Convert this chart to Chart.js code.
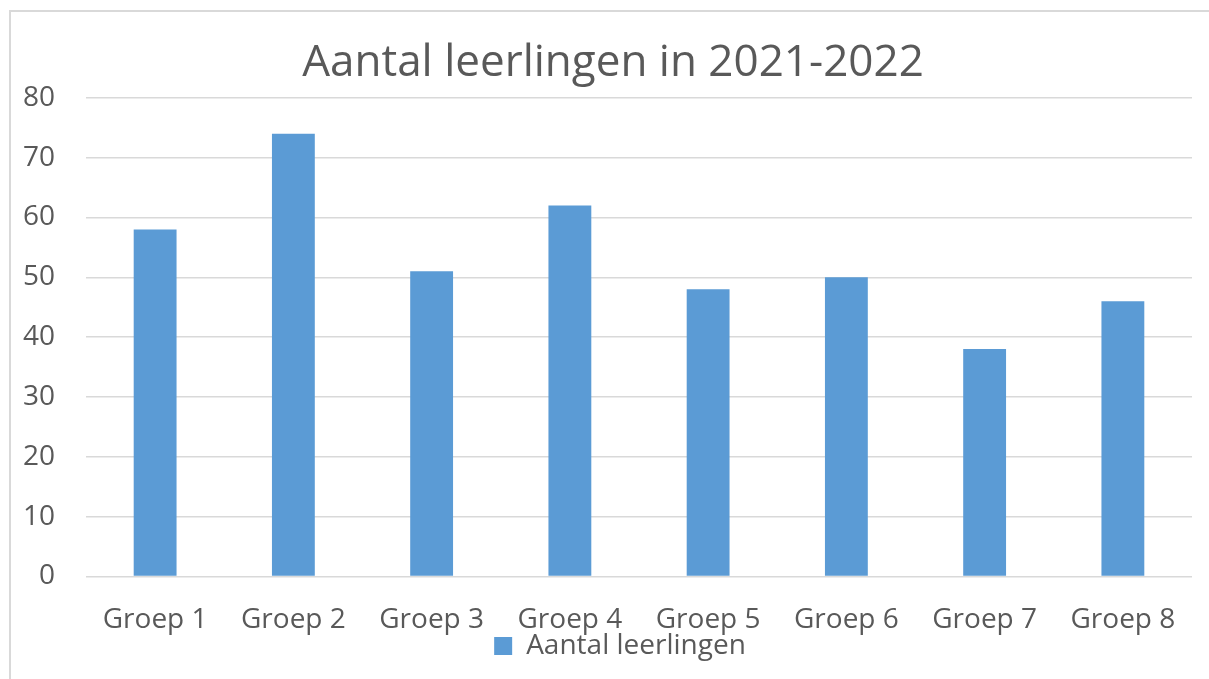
<!DOCTYPE html>
<html>
<head>
<meta charset="utf-8">
<script src="https://cdn.jsdelivr.net/npm/chart.js@4"></script>
<style>
  html, body { margin: 0; padding: 0; background: #fff; overflow: hidden; }
  #frame { position: absolute; left: 9px; top: 10px; width: 1400px; height: 900px; border: 2px solid #d9d9d9; }
  #wrap { position: absolute; left: 0; top: 0; width: 1209px; height: 679px; }
</style>
</head>
<body>
<div id="frame"></div>
<div id="wrap"><canvas id="myChart" width="1209" height="679"></canvas></div>
<script>
// Data
const categories = ['Groep 1', 'Groep 2', 'Groep 3', 'Groep 4', 'Groep 5', 'Groep 6', 'Groep 7', 'Groep 8'];
const leerlingen = [58, 74, 51, 62, 48, 50, 38, 46];
const seriesLabel = 'Aantal leerlingen';
const chartTitle = 'Aantal leerlingen in 2021-2022';

const textColor = '#595959';
const fontFamily = '"Open Sans", sans-serif';

// Nudge title and legend a bit, like the Excel layout
const boxNudge = {
  id: 'boxNudge',
  afterLayout: function(chart) {
    const t = chart.titleBlock;
    if (t) { t.left += 7; t.right += 7; }
    const l = chart.legend;
    if (l) { l.left += 14; l.right += 14; l.top -= 26; l.bottom -= 26; }
  }
};

const ctx = document.getElementById('myChart').getContext('2d');

var myChart = new Chart(ctx, {
  type: 'bar',
  data: {
    labels: categories,
    datasets: [{
      label: seriesLabel,
      data: leerlingen,
      backgroundColor: '#5b9bd5',
      borderWidth: 0,
      barPercentage: 1,
      categoryPercentage: 0.31
    }]
  },
  options: {
    responsive: false,
    animation: false,
    layout: {
      padding: { left: 20, right: 17, top: 0, bottom: -17 }
    },
    plugins: {
      title: {
        display: true,
        text: chartTitle,
        color: textColor,
        font: { family: fontFamily, size: 44, weight: 'normal' },
        padding: { top: 37, bottom: 8 }
      },
      legend: {
        display: true,
        position: 'bottom',
        labels: {
          color: textColor,
          boxWidth: 18,
          boxHeight: 18,
          padding: 2,
          font: { family: fontFamily, size: 28 }
        }
      },
      tooltip: { enabled: false }
    },
    scales: {
      x: {
        grid: { display: false },
        border: { display: false },
        ticks: {
          color: textColor,
          padding: 19,
          maxRotation: 0,
          font: { family: fontFamily, size: 28 }
        }
      },
      y: {
        min: 0,
        max: 80,
        ticks: {
          stepSize: 10,
          color: textColor,
          padding: 31,
          font: { family: fontFamily, size: 28 }
        },
        grid: { color: '#d9d9d9', lineWidth: 1.5, drawTicks: false },
        border: { display: false },
        afterFit: function(scale) { scale.width = 66; }
      }
    }
  },
  plugins: [boxNudge]
});
</script>
</body>
</html>
